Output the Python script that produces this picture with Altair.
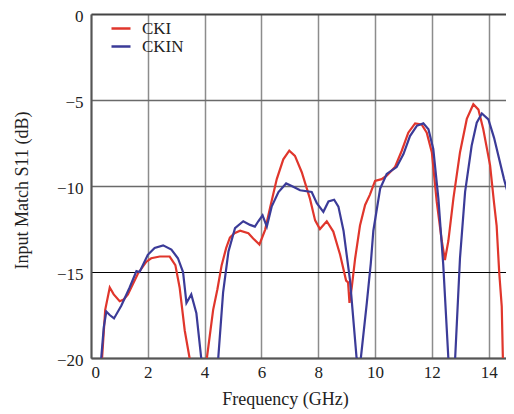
import altair as alt
import pandas as pd

# ---- data ----
cki_freq = [0.33, 0.39, 0.5, 0.66, 0.8, 1.01, 1.15, 1.30, 1.65, 1.95, 2.12, 2.42, 2.77, 2.97,
            3.12, 3.30, 3.47, 3.75, 4.08, 4.3, 4.45, 4.6, 4.76, 4.89, 5.05, 5.25, 5.54, 5.71,
            5.93, 6.13, 6.30, 6.54, 6.77, 6.98, 7.18, 7.42, 7.71, 7.89, 8.06, 8.3, 8.53, 8.77,
            8.98, 9.05, 9.1, 9.18, 9.3, 9.47, 9.65, 9.82, 10.0, 10.23, 10.41, 10.7, 10.94,
            11.17, 11.41, 11.64, 11.82, 12.0, 12.17, 12.35, 12.46, 12.58, 12.76, 12.99, 13.23,
            13.46, 13.64, 13.81, 14.05, 14.19, 14.28, 14.37, 14.46, 14.5, 14.58, 14.68, 14.8,
            14.87, 15.0]
cki_s11 = [-21.0, -20.0, -17.2, -15.9, -16.3, -16.7, -16.6, -16.3, -15.1, -14.4, -14.2, -14.1,
           -14.1, -14.6, -15.9, -18.4, -20.0, -23.0, -20.0, -17.2, -16.0, -14.6, -13.6, -13.0,
           -12.75, -12.6, -12.75, -13.05, -13.4, -12.55, -11.3, -9.6, -8.45, -7.95, -8.25,
           -9.2, -10.75, -12.0, -12.5, -12.05, -12.65, -14.0, -15.5, -15.6, -16.8, -15.9,
           -14.2, -12.3, -11.1, -10.5, -9.7, -9.6, -9.4, -8.9, -7.95, -6.9, -6.36, -6.42,
           -6.9, -8.05, -10.9, -13.2, -14.3, -13.2, -10.7, -8.05, -6.1, -5.25, -5.56, -6.7,
           -8.8, -11.0, -12.3, -15.0, -17.0, -20.0, -22.0, -20.0, -14.0, -11.2, -9.0]

ckin_freq = [0.30, 0.36, 0.45, 0.54, 0.66, 0.81, 1.07, 1.36, 1.60, 1.71, 2.0, 2.24, 2.54,
             2.83, 3.06, 3.24, 3.36, 3.53, 3.71, 3.88, 4.15, 4.48, 4.65, 4.84, 5.07, 5.36,
             5.6, 5.77, 5.89, 6.04, 6.19, 6.36, 6.6, 6.87, 7.12, 7.36, 7.77, 7.95, 8.18,
             8.36, 8.56, 8.71, 8.89, 9.12, 9.35, 9.43, 9.5, 9.71, 9.85, 9.94, 10.18, 10.41,
             10.76, 11.0, 11.23, 11.47, 11.7, 11.88, 12.05, 12.23, 12.4, 12.58, 12.7, 12.82,
             12.99, 13.17, 13.4, 13.58, 13.76, 13.99, 14.19, 14.54, 14.87, 15.0]
ckin_s11 = [-21.0, -20.0, -18.2, -17.3, -17.5, -17.7, -16.95, -15.9, -14.95, -15.0, -14.0,
            -13.6, -13.45, -13.7, -14.2, -15.0, -16.8, -16.3, -17.4, -20.0, -23.0, -20.0,
            -16.2, -13.8, -12.45, -12.05, -12.26, -12.36, -12.05, -11.7, -12.36, -11.2,
            -10.35, -9.85, -10.05, -10.25, -10.35, -11.0, -11.5, -10.9, -10.8, -11.2, -12.6,
            -15.5, -20.0, -21.0, -20.0, -16.8, -14.5, -12.6, -10.15, -9.3, -8.9, -8.14, -7.1,
            -6.5, -6.36, -6.7, -7.85, -10.73, -14.56, -20.0, -22.0, -20.0, -14.2, -10.34,
            -7.66, -6.32, -5.78, -6.13, -7.2, -9.6, -11.6, -12.3]

series_names = ["CKI", "CKIN"]
series_colors = ["#e0362c", "#3b3b98"]
x_ticks = [0, 2, 4, 6, 8, 10, 12, 14]
y_ticks = [-20, -15, -10, -5, 0]

rows = []
for name, fx, sy in [("CKI", cki_freq, cki_s11), ("CKIN", ckin_freq, ckin_s11)]:
    for i, (f, s) in enumerate(zip(fx, sy)):
        rows.append({"freq": f, "s11": s, "series": name, "order": i})
df = pd.DataFrame(rows)

FONT = "Liberation Serif"

chart = alt.Chart(df).mark_line(clip=True, strokeWidth=2.2).encode(
    x=alt.X("freq:Q",
            scale=alt.Scale(domain=[0, 14.61], nice=False, zero=False),
            axis=alt.Axis(values=x_ticks, title="Frequency (GHz)", format="d",
                          ticks=False, labelPadding=6, labelFont=FONT, labelFontSize=17,
                          labelColor="#222", domainColor="#555", domainWidth=2,
                          gridColor="#8c8c8c", gridWidth=1.5,
                          titleFont=FONT, titleFontSize=18, titleFontWeight="normal",
                          titleColor="#222", titleX=194, titleY=46,
                          titleAlign="center", titleBaseline="alphabetic")),
    y=alt.Y("s11:Q",
            scale=alt.Scale(domain=[-20, 0], nice=False, zero=False),
            axis=alt.Axis(values=y_ticks, title="Input Match S11 (dB)", format="d",
                          ticks=False, labelPadding=8, labelOffset=2, labelFont=FONT,
                          labelFontSize=17, labelColor="#222",
                          domainColor="#555", domainWidth=2,
                          gridColor={"condition": [{"test": "datum.value === -15", "value": "#000000"},
                                                   {"test": "datum.value === 0", "value": "#444444"}],
                                     "value": "#6a6a6a"},
                          gridWidth={"condition": [{"test": "datum.value === -15", "value": 1},
                                                   {"test": "datum.value === 0", "value": 2}],
                                     "value": 1.5},
                          titleFont=FONT, titleFontSize=18, titleFontWeight="normal",
                          titleColor="#222", titleX=-64, titleY=176, titleAngle=270,
                          titleAlign="center", titleBaseline="alphabetic")),
    color=alt.Color("series:N",
                    scale=alt.Scale(domain=series_names, range=series_colors),
                    legend=alt.Legend(title=None, orient="none", legendX=19, legendY=7,
                                      symbolType="stroke", symbolStrokeWidth=2.5,
                                      symbolSize=361, labelFont=FONT, labelFontSize=17,
                                      labelColor="#222", labelOffset=10, rowPadding=0,
                                      clipHeight=15, padding=0)),
    order="order:Q",
).properties(
    width=415, height=344,
    autosize=alt.AutoSizeParams(type="none"),
    padding={"left": 83, "top": 6, "right": 0, "bottom": 56},
).configure_view(strokeWidth=0)

chart.save("out.html", embed_options={"renderer": "svg", "actions": False})
